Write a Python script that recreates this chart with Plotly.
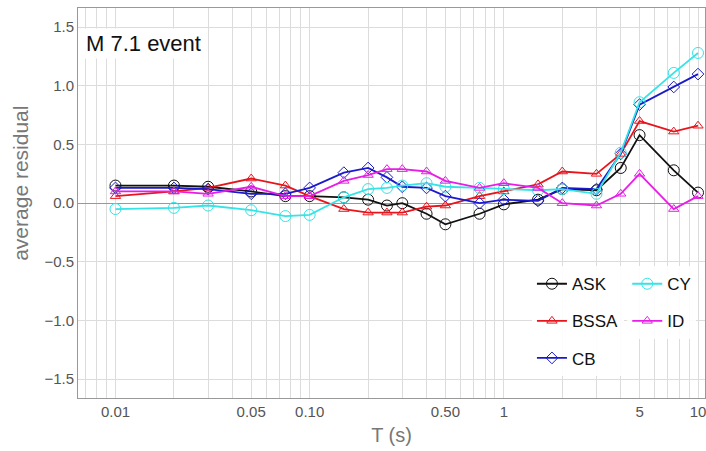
import plotly.graph_objects as go

T = [0.01, 0.02, 0.03, 0.05, 0.075, 0.1, 0.15, 0.2, 0.25, 0.3, 0.4, 0.5, 0.75, 1, 1.5, 2, 3, 4, 5, 7.5, 10]

ASK = [0.15, 0.15, 0.14, 0.10, 0.06, 0.06, 0.05, 0.03, -0.02, 0.0, -0.09, -0.18, -0.09, -0.01, 0.03, 0.12, 0.11, 0.30, 0.58, 0.28, 0.09]
BSSA = [0.06, 0.10, 0.13, 0.21, 0.15, 0.06, -0.05, -0.08, -0.08, -0.08, -0.03, -0.02, 0.06, 0.10, 0.16, 0.27, 0.25, 0.42, 0.70, 0.61, 0.66]
CB = [0.13, 0.13, 0.12, 0.08, 0.08, 0.13, 0.26, 0.30, 0.22, 0.14, 0.13, 0.06, 0.0, 0.03, 0.02, 0.13, 0.12, 0.42, 0.84, 0.99, 1.10]
CY = [-0.05, -0.04, -0.02, -0.06, -0.11, -0.10, 0.05, 0.12, 0.13, 0.15, 0.17, 0.14, 0.13, 0.12, 0.11, 0.12, 0.08, 0.43, 0.86, 1.11, 1.28]
ID = [0.10, 0.10, 0.08, 0.14, 0.06, 0.06, 0.19, 0.24, 0.29, 0.29, 0.27, 0.19, 0.13, 0.17, 0.13, 0.0, -0.02, 0.08, 0.25, -0.05, 0.06]

grid_vals = [m * 10.0 ** e for e in (-3, -2, -1, 0, 1) for m in range(1, 10)]
grid_vals = [v for v in grid_vals if 0.0065 < v < 10.5]
label_map = {0.01: "0.01", 0.05: "0.05", 0.1: "0.10", 0.5: "0.50", 1: "1", 5: "5", 10: "10"}
tick_text = [next((lab for k, lab in label_map.items() if abs(v - k) < 1e-9), "") for v in grid_vals]

series = [
    ("ASK", ASK, "#111111", "circle-open", 11, "legend"),
    ("BSSA", BSSA, "#e8141c", "triangle-up-open", 9, "legend"),
    ("CB", CB, "#1a1acc", "diamond-open", 9, "legend"),
    ("CY", CY, "#36e3e6", "circle-open", 11, "legend2"),
    ("ID", ID, "#e61ee6", "triangle-up-open", 9, "legend2"),
]

fig = go.Figure()
for name, vals, color, sym, size, leg in series:
    fig.add_trace(go.Scatter(
        x=T, y=vals, name=name, mode="lines+markers",
        line=dict(color=color, width=1.8),
        marker=dict(symbol=sym, size=size, color=color, line=dict(width=1)),
        legend=leg, legendgroup=name,
    ))

font_family = "Liberation Sans, Arial, sans-serif"

fig.update_layout(
    width=706, height=451,
    margin=dict(l=78, r=1, t=8, b=53, autoexpand=False),
    paper_bgcolor="white", plot_bgcolor="white",
    font=dict(family=font_family, color="#555555"),
    showlegend=True,
    legend=dict(x=0.724, y=0.338, xanchor="left", yanchor="top", bgcolor="rgba(255,255,255,0.9)",
                font=dict(size=17, color="#111111"), tracegroupgap=12, itemwidth=30),
    legend2=dict(x=0.876, y=0.338, xanchor="left", yanchor="top", bgcolor="rgba(255,255,255,0.9)",
                 font=dict(size=17, color="#111111"), tracegroupgap=12, itemwidth=30),
    xaxis=dict(
        type="log", range=[-2.193, 1.036],
        tickmode="array", tickvals=grid_vals, ticktext=tick_text,
        showgrid=True, gridcolor="#dcdcdc", gridwidth=1,
        showline=True, linecolor="#999999", linewidth=1, mirror=True,
        ticks="", tickfont=dict(size=15, color="#555555"),
        ticklabeloverflow="allow",
        title=dict(text="T (s)", font=dict(size=20, color="#777777"), standoff=8),
        zeroline=False,
    ),
    yaxis=dict(
        range=[-1.66, 1.663],
        tickvals=[-1.5, -1.0, -0.5, 0.0, 0.5, 1.0, 1.5],
        ticktext=["\u22121.5", "\u22121.0", "\u22120.5", "0.0", "0.5", "1.0", "1.5"],
        showgrid=True, gridcolor="#dcdcdc", gridwidth=1,
        showline=True, linecolor="#999999", linewidth=1, mirror=True,
        ticks="", tickfont=dict(size=15, color="#555555"),
        zeroline=True, zerolinecolor="#999999", zerolinewidth=1,
        title=None,
    ),
    annotations=[
        dict(text="M 7.1 event", xref="paper", yref="paper", x=0.008, y=0.948,
             xanchor="left", yanchor="top", showarrow=False, bgcolor="white",
             font=dict(size=22, color="#111111", family=font_family), borderpad=2),
        dict(text="average residual", xref="paper", yref="paper", x=-0.092, y=0.55,
             xanchor="center", yanchor="middle", textangle=-90, showarrow=False,
             font=dict(size=21, color="#777777", family=font_family)),
    ],
)

fig.write_html("out.html")
